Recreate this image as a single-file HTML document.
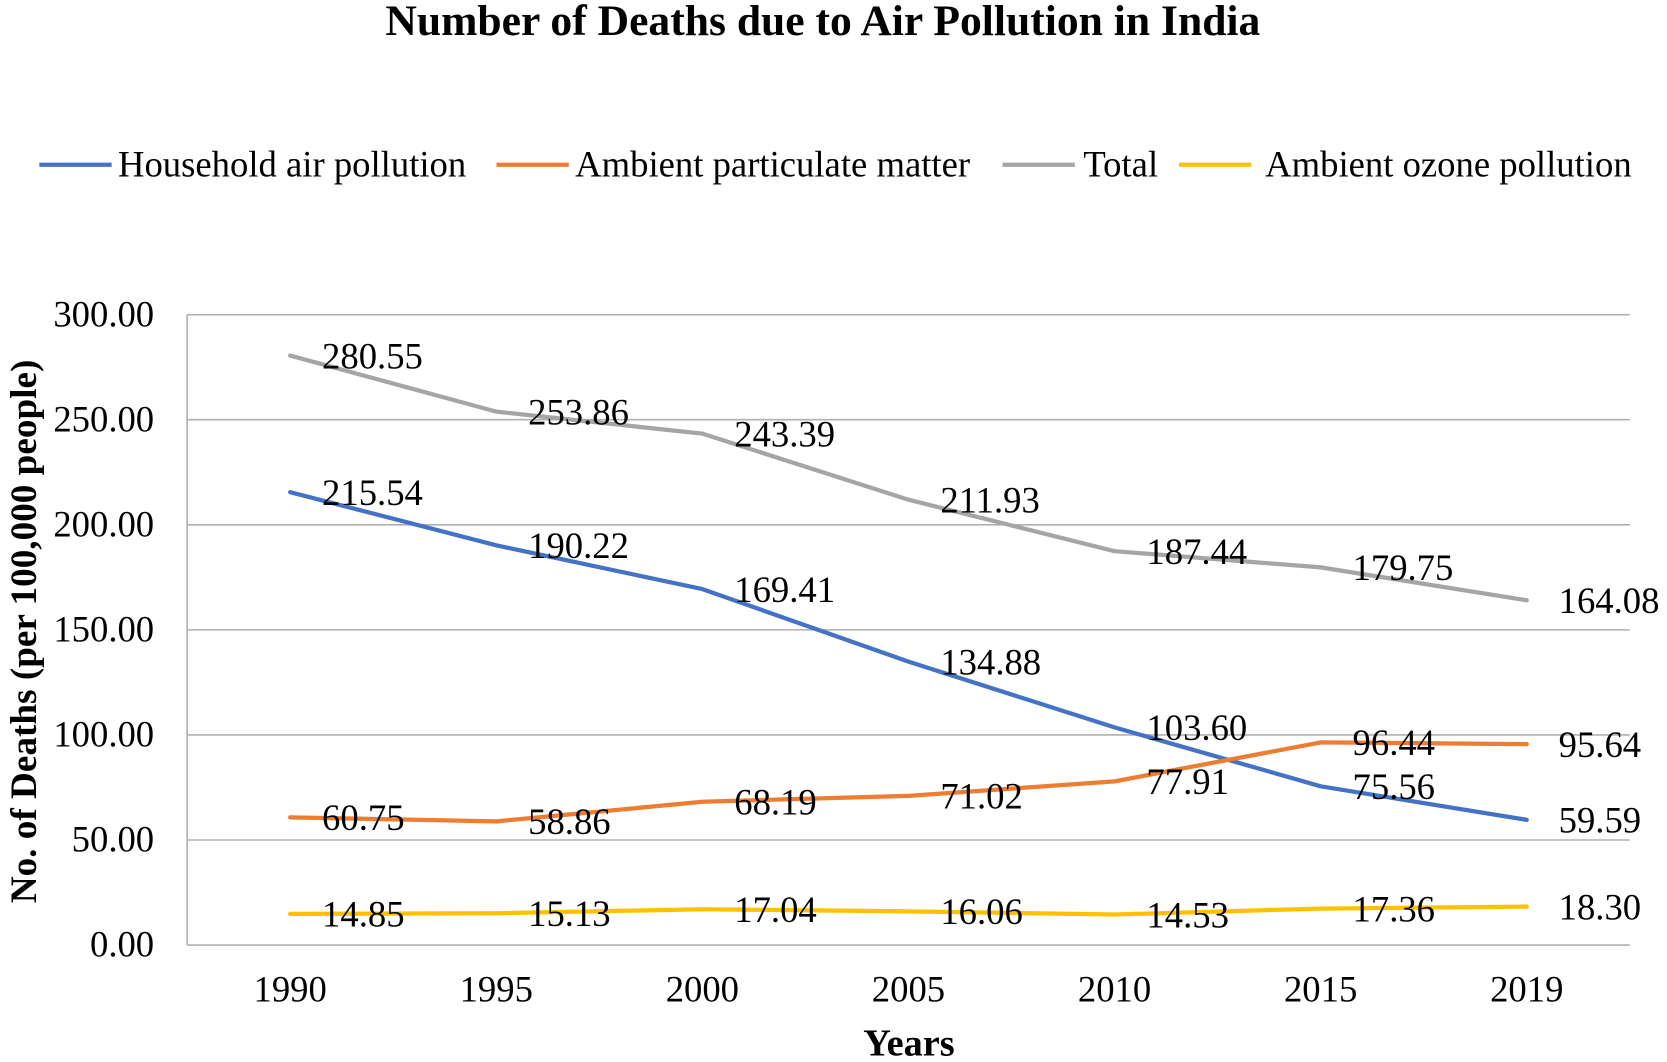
<!DOCTYPE html>
<html><head><meta charset="utf-8"><style>
html,body{margin:0;padding:0;background:#fff}
svg{display:block}
text{font-family:"Liberation Serif",serif;fill:#000}
</style></head><body>
<svg id="chart" width="1667" height="1062" viewBox="0 0 1568 999" preserveAspectRatio="none" xmlns="http://www.w3.org/2000/svg">
<text x="774" y="33" text-anchor="middle" font-size="41" font-weight="bold">Number of Deaths due to Air Pollution in India</text>
<g id="legend"></g>
<g id="grid"></g>
<g id="series"></g>
<text transform="translate(34,594) rotate(-90)" text-anchor="middle" font-size="35" font-weight="bold">No. of Deaths (per 100,000 people)</text>
<text x="855" y="993" text-anchor="middle" font-size="36" font-weight="bold">Years</text>
</svg>
<script>
const categories = ["1990","1995","2000","2005","2010","2015","2019"];
const household = [215.54,190.22,169.41,134.88,103.60,75.56,59.59];
const ambientPM = [60.75,58.86,68.19,71.02,77.91,96.44,95.64];
const total = [280.55,253.86,243.39,211.93,187.44,179.75,164.08];
const ozone = [14.85,15.13,17.04,16.06,14.53,17.36,18.30];
const yTicks = [0,50,100,150,200,250,300];
const seriesNames = ["Household air pollution","Ambient particulate matter","Total","Ambient ozone pollution"];

const NS="http://www.w3.org/2000/svg";
const L=176,R=1533,T=296,B=889,yMax=300;
const bw=(R-L)/categories.length;
const xS=i=>L+bw*(i+0.5);
const yS=v=>B-(v/yMax)*(B-T);
function mk(tag,attrs,parent){const e=document.createElementNS(NS,tag);for(const k in attrs)e.setAttribute(k,attrs[k]);parent.appendChild(e);return e;}

const grid=document.getElementById('grid');
yTicks.forEach(t=>{
  const l=mk('line',{x1:L,x2:R,y1:yS(t),y2:yS(t),stroke:'#b0b0b0','stroke-width':1.5},grid);
  
  
  const tx=mk('text',{x:145,y:yS(t)+11,'text-anchor':'end','font-size':34.5},grid);
  tx.textContent=t.toFixed(2);
  
  
});
const ax=mk('line',{x1:L,x2:L,y1:T,y2:B,stroke:'#b0b0b0','stroke-width':1.5},grid);


categories.forEach((c,i)=>{
  const tx=mk('text',{x:xS(i),y:942,'text-anchor':'middle','font-size':34.5},grid);
  tx.textContent=c;
  
  
});

const sg=document.getElementById('series');
const data=[[household,'#4472C4','household'],[ambientPM,'#ED7D31','ambient-pm'],[total,'#A5A5A5','total'],[ozone,'#FFC000','ozone']];
data.forEach(([vals,col,nm])=>{
  const p=mk('polyline',{points:vals.map((v,i)=>xS(i)+','+yS(v)).join(' '),fill:'none',stroke:col,'stroke-width':4,'stroke-linejoin':'round','stroke-linecap':'round'},sg);
  
  
});
data.forEach(([vals,col,nm])=>{
  vals.forEach((v,i)=>{
    const tx=mk('text',{x:xS(i)+30,y:yS(v)+12,'font-size':34.5},sg);
    tx.textContent=v.toFixed(2);
    
    
  });
});

const lg=document.getElementById('legend');
const lx=[[37,111],[467,541],[943,1019],[1109,1190]];
seriesNames.forEach((n,i)=>{
  const l=mk('line',{x1:lx[i][0],x2:lx[i][0]+68,y1:155,y2:155,stroke:data[i][1],'stroke-width':4},lg);
  
  
  const tx=mk('text',{x:lx[i][1],y:166,'font-size':34.5},lg);
  tx.textContent=n;
  
  
});
</script>
</body></html>
